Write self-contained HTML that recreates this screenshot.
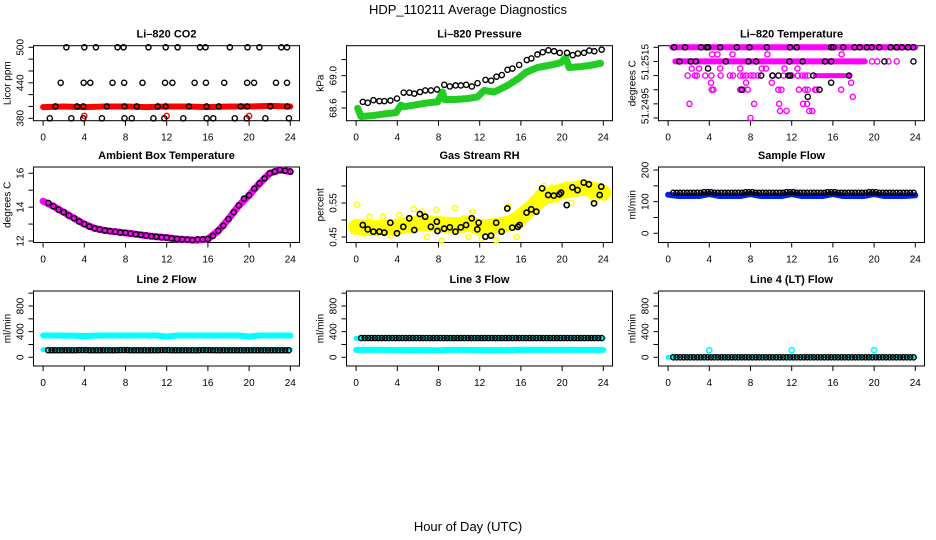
<!DOCTYPE html>
<html><head><meta charset="utf-8">
<style>
html,body{margin:0;padding:0;background:#fff;}
svg{display:block;font-family:"Liberation Sans",Arial,sans-serif;}
</style></head>
<body>
<svg id="chart" width="936" height="540" viewBox="0 0 936 540" xmlns="http://www.w3.org/2000/svg">
<rect x="0" y="0" width="936" height="540" fill="#fff"/>
<text x="468" y="14" text-anchor="middle" font-size="13">HDP_110211  Average Diagnostics</text>
<text x="468" y="531" text-anchor="middle" font-size="13">Hour of Day (UTC)</text>
</svg>
<script>
// ---------- data ----------
const xTicks=[0,4,8,12,16,20,24];
// CO2
const co2BlackX=[2.26,4.0,5.13,7.23,7.81,10.23,11.9,13.06,15.23,15.77,18.13,19.84,21.0,23.13,23.68,
 1.71,3.94,4.58,6.74,7.87,9.65,11.84,12.55,14.71,15.81,17.58,19.81,20.48,22.61,23.68,
 1.19,3.29,3.9,6.19,7.9,9.1,11.13,11.9,14.16,15.87,17.06,19.19,19.81,22.06,23.71,
 0.65,2.74,3.9,5.71,7.9,8.61,10.71,11.77,13.61,15.87,16.52,18.61,19.77,21.58,23.87];
const co2BlackY=[500,500,500,500,500,500,500,500,500,500,500,500,500,500,500,
 440,440,440,440,440,440,440,440,440,440,440,440,440,440,440,
 400,400,400,400,400,400,400,400,400,400,400,400,400,400,400,
 380,380,380,380,380,380,380,380,380,380,380,380,380,380,380];
const co2RedX=[0,2,4,6,8,10,12,14,16,18,20,22,24];
const co2RedY=[399,400,399,400,400,399,400,400,399,400,400,401,400];
const co2RedPtX=[4,12,20];
const co2RedPtY=[384,384,384];
// Pressure
const pressBlackX=[0.65,1.13,1.68,2.26,2.75,3.33,3.97,4.62,5.17,5.65,6.2,6.72,7.27,7.85,8.56,9.1,9.66,10.17,10.69,11.24,11.79,12.56,13.11,13.63,14.15,14.7,15.18,15.83,16.57,17.02,17.6,18.12,18.67,19.22,19.77,20.48,21.03,21.54,22.13,22.64,23.13,23.84];
const pressBlackY=[68.676,68.664,68.697,68.685,68.685,68.693,68.717,68.790,68.790,68.778,68.798,68.818,68.818,68.830,68.887,68.867,68.879,68.879,68.887,68.867,68.907,68.948,68.939,68.988,69.008,69.073,69.089,69.133,69.194,69.214,69.263,69.291,69.315,69.303,69.283,69.283,69.255,69.275,69.283,69.311,69.303,69.323];
const pressGreenX=[0.16,0.48,1.45,2.75,3.88,4.36,4.68,5.65,6.94,7.91,8.4,8.56,9.53,10.82,11.79,12.44,13.4,14.7,15.83,16.47,17.6,18.9,19.86,20.35,20.67,21.8,22.77,23.74];
const pressGreenY=[68.596,68.495,68.503,68.527,68.543,68.636,68.616,68.636,68.664,68.676,68.798,68.705,68.705,68.717,68.737,68.818,68.798,68.879,68.972,69.040,69.101,69.133,69.161,69.222,69.101,69.113,69.129,69.154];
// Li-820 temperature
const tBandTopX=[0.4,24], tBandTopY=[51.2515,51.2515];
const tBandMidX=[0.7,19.1], tBandMidY=[51.251,51.251];
const tBandLowX=[14.3,17.6], tBandLowY=[51.2505,51.2505];
const tMagX=[4.27,4.79,6.25,9.64,16.85, 2.3,3.0,5.05,7.0,9.1,9.5,11.3,12.56,
 1.9,2.6,2.8,3.6,4.2,5.1,6.0,6.3,7.0,7.3,7.6,8.0,8.3,8.7,10.1,11.2,12.0,12.6,13.0,13.3,13.6,
 4.17,7.57,10.07,17.77, 4.24,4.4,7.0,7.3,7.73,10.7,11.0,12.7,13.3,13.56,14.27,14.4,16.8,
 17.93, 2.07,8.35,10.78,13.1,13.5, 10.87,11.5,13.7,14.0, 8.0, 19.8,20.3,21.4,22.2];
const tMagY=[51.25125,51.25125,51.25125,51.25125,51.25125, 51.25075,51.25075,51.25075,51.25075,51.25075,51.25075,51.25075,51.25075,
 51.2505,51.2505,51.2505,51.2505,51.2505,51.2505,51.2505,51.2505,51.2505,51.2505,51.2505,51.2505,51.2505,51.2505,51.2505,51.2505,51.2505,51.2505,51.2505,51.2505,51.2505,
 51.25025,51.25025,51.25025,51.25025, 51.25,51.25,51.25,51.25,51.25,51.25,51.25,51.25,51.25,51.25,51.25,51.25,51.25,
 51.24975, 51.2495,51.2495,51.2495,51.2495,51.2495, 51.24925,51.24925,51.24925,51.24925, 51.249, 51.251,51.251,51.251,51.251];
const tBlackX=[0.58,1.65,3.2,3.75,3.9,5.05,6.67,7.9,9.58,11.84,12.49,15.83,16.05,17.0,18.1,18.6,19.3,19.77,20.5,21.6,22.2,22.7,23.3,23.8,
 1.1,2.2,2.7,5.6,7.8,8.54,11.78,13.07,15.24,15.83,21.0,23.82, 3.88, 9.03,10.16,10.71,11.68,11.84,14.1,17.57, 15.83, 7.15,14.7, 13.56];
const tBlackY=[51.2515,51.2515,51.2515,51.2515,51.2515,51.2515,51.2515,51.2515,51.2515,51.2515,51.2515,51.2515,51.2515,51.2515,51.2515,51.2515,51.2515,51.2515,51.2515,51.2515,51.2515,51.2515,51.2515,51.2515,
 51.251,51.251,51.251,51.251,51.251,51.251,51.251,51.251,51.251,51.251,51.251,51.251, 51.25075, 51.2505,51.2505,51.2505,51.2505,51.2505,51.2505,51.2505, 51.25025, 51.25,51.25, 51.24975];
// Ambient box temperature
const ambHours=[0,1,2,3,4,5,6,7,8,9,10,11,12,13,14,15,16,17,18,19,20,21,22,23,24];
const ambMag=[14.35,14.05,13.7,13.35,13.0,12.75,12.62,12.55,12.48,12.4,12.32,12.25,12.2,12.12,12.08,12.05,12.12,12.6,13.3,14.1,14.7,15.4,16.0,16.2,16.1];
const ambBlackX=[0.5,1,1.5,2,2.5,3,3.5,4,4.5,5,5.5,6,6.5,7,7.5,8,8.5,9,9.5,10,10.5,11,11.5,12,12.5,13,13.5,14,14.5,15,15.5,16,16.5,17,17.5,18,18.5,19,19.5,20,20.5,21,21.5,22,22.5,23,23.5,24];
const ambBlackY=[14.25,14.05,13.85,13.7,13.5,13.35,13.15,13.0,12.85,12.75,12.68,12.62,12.58,12.55,12.5,12.48,12.44,12.4,12.36,12.32,12.28,12.25,12.22,12.2,12.15,12.12,12.1,12.08,12.05,12.1,12.1,12.12,12.3,12.6,12.9,13.3,13.7,14.1,14.5,14.7,15.1,15.4,15.7,16.0,16.1,16.2,16.15,16.1];
// Gas stream RH
const rhYellowX=[0,1,2,3,4,5,6,7,8,9,10,11,12,13,14,15,16,17,18,19,20,21,22,23,24];
const rhYellowY=[0.48,0.478,0.476,0.478,0.48,0.485,0.49,0.49,0.488,0.485,0.485,0.49,0.478,0.48,0.485,0.49,0.51,0.535,0.565,0.575,0.585,0.59,0.595,0.59,0.58];
const rhYellowPtX=[0.1,1.3,2.6,4.2,5.6,6.4,7.8,8.3,9.6,10.5,11.3,12.2,13.6,14.8,16.2,17.2,18.2,19.0,19.5,20.4,21.3,22.3,22.9,23.7,0.8,3.3,6.9,10.9,13.1,15.6,17.7,20.9,23.1];
const rhYellowPtY=[0.545,0.51,0.51,0.515,0.532,0.525,0.53,0.44,0.535,0.505,0.525,0.445,0.44,0.54,0.49,0.56,0.6,0.595,0.56,0.605,0.6,0.61,0.57,0.6,0.46,0.455,0.45,0.45,0.46,0.45,0.58,0.55,0.56];
const rhBlackX=[0.65,1.13,1.68,2.26,2.74,3.32,3.97,4.58,5.16,5.65,6.19,6.71,7.26,7.84,7.9,8.55,9.1,9.65,10.16,10.68,11.23,11.77,11.9,12.55,13.1,13.6,14.13,14.68,15.16,15.71,15.87,16.55,17,17.5,18.06,18.65,19.19,19.74,19.9,20.45,21,21.5,22.1,22.6,23.1,23.65,23.8];
const rhBlackY=[0.4853,0.4726,0.4657,0.4657,0.4627,0.492,0.4608,0.480,0.505,0.4706,0.5176,0.5098,0.480,0.495,0.4676,0.4745,0.4784,0.4657,0.4784,0.4853,0.505,0.4726,0.492,0.451,0.4539,0.492,0.4657,0.534,0.4775,0.480,0.4853,0.5216,0.5314,0.5245,0.5931,0.5735,0.5716,0.5755,0.5804,0.544,0.596,0.588,0.610,0.605,0.549,0.5735,0.598];
// Sample flow
const sampleHours=[0,1,2,3,4,5,6,7,8,9,10,11,12,13,14,15,16,17,18,19,20,21,22,23,24];
const sampleBlue=[122,118,118,118,124,118,118,118,124,118,118,118,124,118,118,118,124,118,118,118,124,118,118,118,120];
const sampleBlack=[128,128,128,128,130,128,128,128,130,128,128,128,130,128,128,128,130,128,128,128,130,128,128,128,128];
// Line 2 flow
const l2Hours=[0,1,2,3,4,5,6,7,8,9,10,11,12,13,14,15,16,17,18,19,20,21,22,23,24];
const l2CyanHigh=[340,340,338,338,330,338,340,340,340,340,340,340,325,340,340,340,340,340,340,340,325,340,340,340,340];
const l2Black=[110,110,110,110,112,110,110,110,112,110,110,110,112,110,110,110,112,110,110,110,110,110,110,110,110];
// Line 3 flow
const l3CyanLow=[115,115,115,115,112,112,112,112,110,115,115,115,112,112,112,112,118,115,115,115,115,115,115,115,115];
const l3Black=[300,300,300,300,300,300,300,300,300,300,300,300,300,300,300,300,300,300,300,300,300,300,300,300,300];
// Line 4 flow
const l4Black=[0,0,0,0,0,0,0,0,0,0,0,0,0,0,0,0,0,0,0,0,0,0,0,0,0];
const l4CyanPtX=[4,12,20];
const l4CyanPtY=[110,110,110];

// ---------- drawing ----------
const svg=document.getElementById('chart');
const NS='http://www.w3.org/2000/svg';
const colLeft=[33.5,346.5,658.5], boxW=266;
const rowTop=[45.7,167,291], rowBot=[120.7,242.5,366];
function mk(tag,attrs,parent){const e=document.createElementNS(NS,tag);for(const k in attrs)e.setAttribute(k,attrs[k]);(parent||svg).appendChild(e);return e;}

function panel(name,col,row,v0,p0,v1,p1,ticks,labels,ytitle,title){
  const g=mk('g',{});
  
  
  const L=colLeft[col],T=rowTop[row],B=rowBot[row];
  const x=h=>L+9.6+h*10.3;
  const y=v=>p0+(v-v0)*(p1-p0)/(v1-v0);
  const box=mk('rect',{x:L,y:T,width:boxW,height:B-T,fill:'none',stroke:'#000','stroke-width':1},g);
  
  
  const t=mk('text',{x:L+boxW/2,y:T-8,'text-anchor':'middle','font-size':11,'font-weight':'bold'},g);
  t.textContent=title;
  
  
  xTicks.forEach(h=>{
    const tk=mk('line',{x1:x(h),x2:x(h),y1:B,y2:B+5,stroke:'#000','stroke-width':1},g);
    
    
    const lb=mk('text',{x:x(h),y:B+20,'text-anchor':'middle','font-size':10},g);
    lb.textContent=h;
    
    
  });
  ticks.forEach(v=>{
    const tk=mk('line',{x1:L-5,x2:L,y1:y(v),y2:y(v),stroke:'#000','stroke-width':1},g);
    
    
  });
  labels.forEach(lv=>{
    const yy=(lv.p!==undefined)?lv.p:y(lv.v);
    const lb=mk('text',{x:0,y:0,'text-anchor':'middle','font-size':10,transform:`translate(${L-10},${yy}) rotate(-90)`},g);
    lb.textContent=lv.t;
    
    
  });
  const yt=mk('text',{x:0,y:0,'text-anchor':'middle','font-size':10,transform:`translate(${L-23},${(T+B)/2}) rotate(-90)`},g);
  yt.textContent=ytitle;
  
  
  return {g,x,y};
}
function band(P,xs,ys,color,w,nm){
  const pts=xs.map((h,i)=>P.x(h).toFixed(1)+','+P.y(ys[i]).toFixed(1)).join(' ');
  const pl=mk('polyline',{points:pts,fill:'none',stroke:color,'stroke-width':w,'stroke-linecap':'round','stroke-linejoin':'round'},P.g);
  
  
}
function dots(P,xs,ys,color,nm,sw){
  xs.forEach((h,i)=>{
    const c=mk('circle',{cx:P.x(h),cy:P.y(ys[i]),r:2.6,fill:'none',stroke:color,'stroke-width':sw||1.4},P.g);
    
    
  });
}
// periodic instrument samples every 20 minutes, value taken from hourly array
function hourlyDots(P,arr,color,nm){
  for(let i=0;i<71;i++){
    const t=0.5+i/3;
    const c=mk('circle',{cx:P.x(t),cy:P.y(arr[Math.round(t)]),r:2.6,fill:'none',stroke:color,'stroke-width':1.4},P.g);
    
    
  }
}

// Panel 1: CO2
let P=panel('co2',0,0,500,47.3,380,118.3,[380,400,420,440,460,480,500],[{v:380,t:'380'},{v:440,t:'440'},{v:500,t:'500'}],'Licor ppm','Li\u2013820 CO2');
band(P,co2RedX,co2RedY,'#ff0000',6,'co2-red-band');
dots(P,co2RedPtX,co2RedPtY,'#ff0000','co2-red-point');
dots(P,co2BlackX,co2BlackY,'#000','co2-black-point');

// Panel 2: Pressure
P=panel('pressure',1,0,69.0,75.7,68.6,108,[68.6,68.8,69.0,69.2],[{v:68.6,t:'68.6'},{v:69.0,t:'69.0'}],'kPa','Li\u2013820 Pressure');
band(P,pressGreenX,pressGreenY,'#22cc22',7,'pressure-green-band');
dots(P,pressBlackX,pressBlackY,'#000','pressure-black-point');

// Panel 3: Li-820 temperature
P=panel('li820-temp',2,0,51.2515,47.3,51.249,118,[51.249,51.2495,51.25,51.2505,51.251,51.2515],[{p:62,t:'51.2515'},{p:75.5,t:''},{p:106,t:'51.2495'}],'degrees C','Li\u2013820 Temperature');
band(P,tBandTopX,tBandTopY,'#ff00ff',6,'temp-magenta-band-top');
band(P,tBandMidX,tBandMidY,'#ff00ff',6,'temp-magenta-band-mid');
band(P,tBandLowX,tBandLowY,'#ff00ff',5,'temp-magenta-band-low');
dots(P,tMagX,tMagY,'#ff00ff','temp-magenta-point');
dots(P,tBlackX,tBlackY,'#000','temp-black-point');

// Panel 4: Ambient
P=panel('ambient',0,1,16,173.3,12,241,[12,13,14,15,16],[{v:12,t:'12'},{v:14,t:'14'},{v:16,t:'16'}],'degrees C','Ambient Box Temperature');
band(P,ambHours,ambMag,'#ff00ff',7,'ambient-magenta-band');
dots(P,ambBlackX,ambBlackY,'#000','ambient-black-point');

// Panel 5: RH
P=panel('gas-rh',1,1,0.55,203,0.45,237,[0.45,0.5,0.55,0.6],[{v:0.45,t:'0.45'},{v:0.55,t:'0.55'}],'percent','Gas Stream RH');
band(P,rhYellowX,rhYellowY,'#ffff00',16,'rh-yellow-band');
dots(P,rhYellowPtX,rhYellowPtY,'#ffff00','rh-yellow-point');
dots(P,rhBlackX,rhBlackY,'#000','rh-black-point',1.6);

// Panel 6: Sample flow
P=panel('sample-flow',2,1,200,170,0,233.3,[0,50,100,150,200],[{v:0,t:'0'},{v:100,t:'100'},{v:200,t:'200'}],'ml/min','Sample Flow');
band(P,sampleHours,sampleBlue,'#0022ee',6,'sample-blue-band');
hourlyDots(P,sampleBlack,'#000','sample-black-point');

// Panel 7: Line 2 flow
const flowTicks=[0,200,400,600,800,1000];
const flowLabels=[{v:0,t:'0'},{v:400,t:'400'},{v:800,t:'800'}];
P=panel('line2-flow',0,2,0,357.3,800,306,flowTicks,flowLabels,'ml/min','Line 2 Flow');
band(P,l2Hours,l2CyanHigh,'#00ffff',6,'line2-cyan-band');
band(P,[0,24],[118,118],'#00ffff',5,'line2-cyan-low-band');
hourlyDots(P,l2Black,'#000','line2-black-point');

// Panel 8: Line 3 flow
P=panel('line3-flow',1,2,0,357.3,800,306,flowTicks,flowLabels,'ml/min','Line 3 Flow');
band(P,l2Hours,l3CyanLow,'#00ffff',6,'line3-cyan-band');
band(P,[0,24],[295,295],'#00ffff',5,'line3-cyan-high-band');
hourlyDots(P,l3Black,'#000','line3-black-point');

// Panel 9: Line 4 flow
P=panel('line4-flow',2,2,0,357.3,800,306,flowTicks,flowLabels,'ml/min','Line 4 (LT) Flow');
band(P,[0,0.5],[0,0],'#00ffff',5,'line4-cyan-band');
band(P,[0.5,24],[0,0],'#00ffff',3,'line4-cyan-under-band');
dots(P,l4CyanPtX,l4CyanPtY,'#00ffff','line4-cyan-point',1.6);
hourlyDots(P,l4Black,'#000','line4-black-point');
</script>
</body></html>
